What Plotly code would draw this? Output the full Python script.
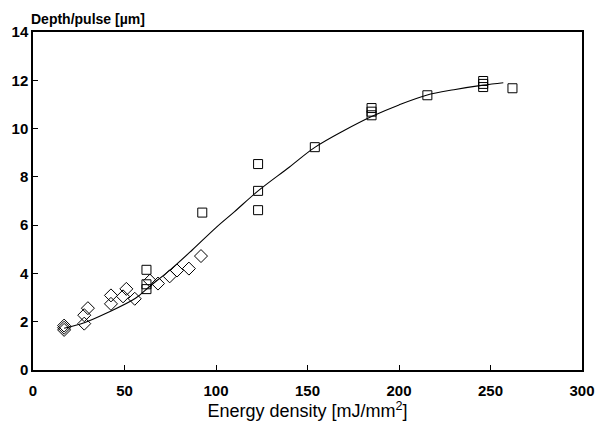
import plotly.graph_objects as go

# Diamond series (energy density mJ/mm^2, depth/pulse um)
dia_x = [17, 17, 17, 28, 28, 30, 42.6, 42.6, 49.2, 51, 55.6, 63.9, 68.3, 74.7, 78.7, 85.2, 91.8]
dia_y = [1.66, 1.75, 1.84, 1.92, 2.27, 2.56, 3.09, 2.74, 3.05, 3.36, 2.95, 3.70, 3.58, 3.88, 4.12, 4.20, 4.72]

# Square series
sq_x = [62, 62, 62, 92.5, 123, 123, 123, 154, 185, 185, 185, 215.5, 246, 246, 246, 262]
sq_y = [4.15, 3.55, 3.35, 6.52, 8.53, 7.42, 6.62, 9.23, 10.55, 10.7, 10.85, 11.38, 11.72, 11.85, 11.97, 11.67]

# Fitted curve
fit_x = [17, 28, 40, 56, 64, 75, 87, 100, 110, 123, 140, 154, 170, 185, 200, 215, 230, 246, 257]
fit_y = [1.73, 1.96, 2.35, 2.97, 3.48, 4.15, 4.97, 5.9, 6.55, 7.42, 8.4, 9.22, 9.92, 10.5, 10.98, 11.38, 11.61, 11.8, 11.9]

x_ticks = [0, 50, 100, 150, 200, 250, 300]
y_ticks = [0, 2, 4, 6, 8, 10, 12, 14]

FONT = "Liberation Sans, Arial, sans-serif"

fig = go.Figure()
fig.add_trace(go.Scatter(x=fit_x, y=fit_y, mode="lines",
                         line=dict(color="black", width=1.1, shape="spline"),
                         showlegend=False, hoverinfo="skip"))
fig.add_trace(go.Scatter(x=dia_x, y=dia_y, mode="markers",
                         marker=dict(symbol="diamond-open", size=10, color="black",
                                     line=dict(width=1, color="black")),
                         showlegend=False))
fig.add_trace(go.Scatter(x=sq_x, y=sq_y, mode="markers",
                         marker=dict(symbol="square-open", size=9, color="black",
                                     line=dict(width=1, color="black")),
                         showlegend=False))

axis_common = dict(showgrid=False, zeroline=False, showline=True, linecolor="black",
                   linewidth=1.5, mirror=True, ticks="inside", ticklen=5,
                   tickcolor="black", tickwidth=1, automargin=False,
                   tickfont=dict(family=FONT, size=15, color="black", weight="bold"))

fig.update_xaxes(range=[0, 300], tickvals=x_ticks, ticktext=[str(v) for v in x_ticks],
                 ticklabelstandoff=6,
                 title=dict(text="Energy density [mJ/mm<sup>2</sup>]",
                            font=dict(family=FONT, size=18, color="black"), standoff=4),
                 **axis_common)
fig.update_yaxes(range=[0, 14], tickvals=y_ticks, ticktext=[str(v) for v in y_ticks],
                 **axis_common)

fig.add_annotation(text="<b>Depth/pulse [µm]</b>", xref="paper", yref="paper",
                   x=0, y=1, xanchor="left", yanchor="bottom", yshift=3, xshift=-4,
                   showarrow=False,
                   font=dict(family=FONT, size=14, color="black"))

fig.update_layout(width=598, height=423, margin=dict(l=33, r=16, t=32, b=53, autoexpand=False),
                  paper_bgcolor="white", plot_bgcolor="white")

# remove the page's default body margin so the figure fills the window exactly
fig.write_html("out.html", config={"displayModeBar": False},
               post_script="document.body.style.margin='0';document.body.style.overflow='hidden';")
